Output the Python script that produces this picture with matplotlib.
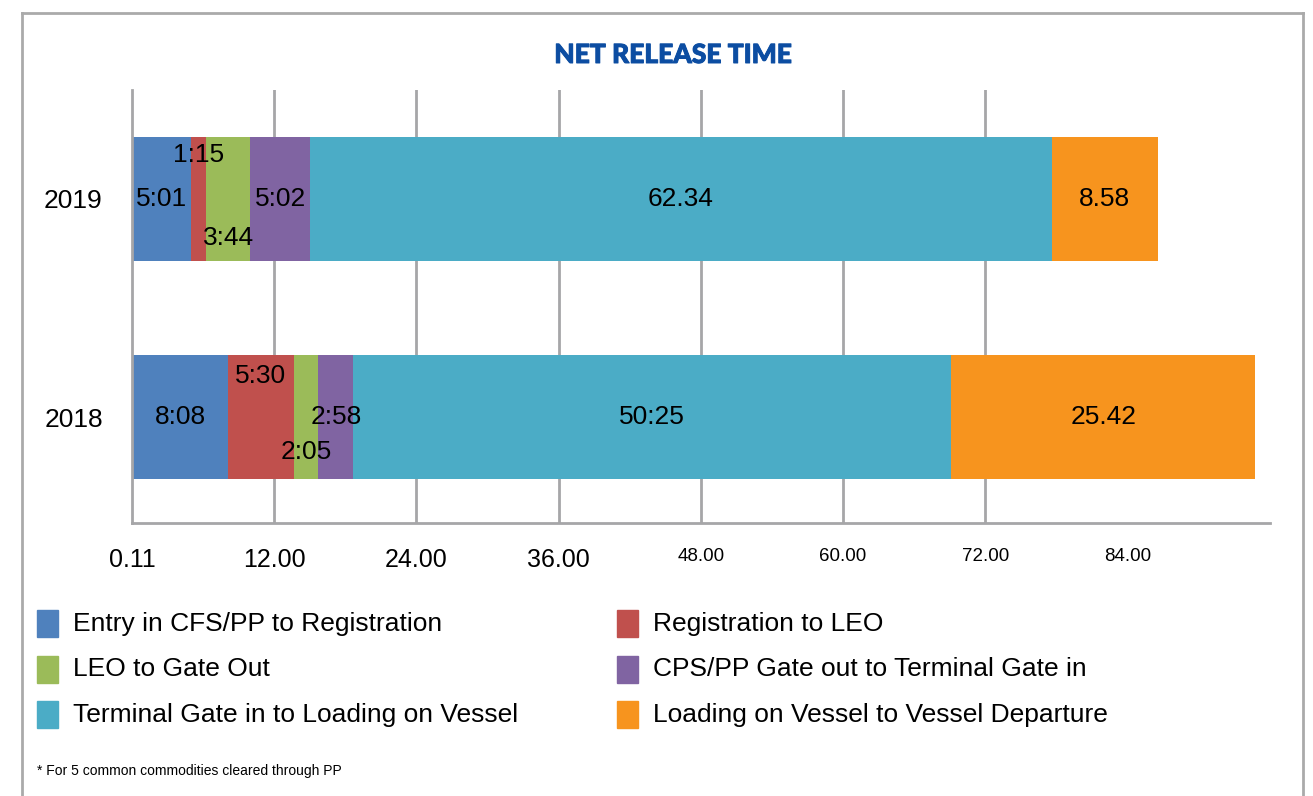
import matplotlib.pyplot as plt
import matplotlib.patheffects as pe
from matplotlib.patches import Rectangle
from matplotlib.lines import Line2D

# Stages of the export clearance process
stages = ['Entry in CFS/PP to Registration',
          'Registration to LEO',
          'LEO to Gate Out',
          'CPS/PP Gate out to Terminal Gate in',
          'Terminal Gate in to Loading on Vessel',
          'Loading on Vessel to Vessel Departure']
colors = ['#4F81BD', '#C0504D', '#9BBB59', '#8064A2', '#4BACC6', '#F7941E']

years = ['2018', '2019']
# time per stage, hours:minutes as reported
times_2018 = ['8:08', '5:30', '2:05', '2:58', '50:25', '25.42']
times_2019 = ['5:01', '1:15', '3:44', '5:02', '62.34', '8.58']

xtick_pos = [0, 12, 24, 36, 48, 60, 72, 84]
xtick_labels = ['0.11', '12.00', '24.00', '36.00', '48.00', '60.00', '72.00', '84.00']


def to_hours(s):
    h, m = s.replace('.', ':').split(':')
    return int(h) + int(m) / 60.0


# vertical nudges so the labels of thin segments don't collide
label_dy = {'2019': [0, 0.2, -0.18, 0, 0, 0],
            '2018': [0, 0.19, -0.16, 0, 0, 0]}

plt.rcParams['font.family'] = ['Liberation Sans', 'DejaVu Sans']
fig = plt.figure(figsize=(13.13, 7.96), dpi=100)
ax = fig.add_axes([0.1005, 0.343, 0.8665, 0.544])

grey = '#A6A6A8'
for x in xtick_pos[1:-1]:
    ax.axvline(x, color=grey, lw=2, zorder=0)

bar_h = 0.57
for yi, (year, times) in enumerate(zip(years, [times_2018, times_2019])):
    left = 0
    for i, t in enumerate(times):
        w = to_hours(t)
        ax.barh(yi, w, left=left, height=bar_h, color=colors[i], zorder=2)
        ax.text(left + w / 2, yi + label_dy[year][i], t, ha='center', va='center',
                fontsize=19, color='black', zorder=3)
        left += w

ax.set_xlim(0, 96)
ax.set_ylim(-0.486, 1.5)
ax.set_yticks([0, 1])
ax.set_yticklabels(years, fontsize=19)
ax.set_xticks(xtick_pos)
ax.set_xticklabels(xtick_labels)
for k, lbl in enumerate(ax.get_xticklabels()):
    lbl.set_fontsize(18 if k < 4 else 13.5)
ax.tick_params(axis='both', length=0)
ax.tick_params(axis='x', pad=18)
ax.tick_params(axis='y', pad=21)

for side in ['top', 'right']:
    ax.spines[side].set_visible(False)
for side in ['left', 'bottom']:
    ax.spines[side].set_color(grey)
    ax.spines[side].set_linewidth(2)

title_color = '#0C4DA2'
fig.text(0.5125, 1 - 55 / 796, 'NET RELEASE TIME', ha='center', va='center',
         fontsize=19, fontweight='black', family='Lato', color=title_color,
         path_effects=[pe.withStroke(linewidth=0.7, foreground=title_color)])

# legend in two columns, row by row
W, H = 1313.0, 796.0
for i, name in enumerate(stages):
    row, col = i // 2, i % 2
    x0 = 37 if col == 0 else 617
    yc = 624 + row * 45.5
    fig.patches.append(Rectangle((x0 / W, 1 - (yc + 13) / H), 21 / W, 27 / H,
                                 transform=fig.transFigure, color=colors[i]))
    fig.text((x0 + 36) / W, 1 - yc / H, name, ha='left', va='center', fontsize=19)

fig.text(37 / W, 1 - 771 / H, '* For 5 common commodities cleared through PP',
         ha='left', va='center', fontsize=10)

# outer frame
frame = dict(color='#AAAAAA', lw=2, transform=fig.transFigure)
fig.lines.append(Line2D([22 / W, 22 / W], [0, 1 - 13 / H], **frame))
fig.lines.append(Line2D([22 / W, 1303 / W], [1 - 13 / H, 1 - 13 / H], **frame))
fig.lines.append(Line2D([1303 / W, 1303 / W], [0, 1 - 13 / H], **frame))

fig.savefig('out.png', dpi=100)
